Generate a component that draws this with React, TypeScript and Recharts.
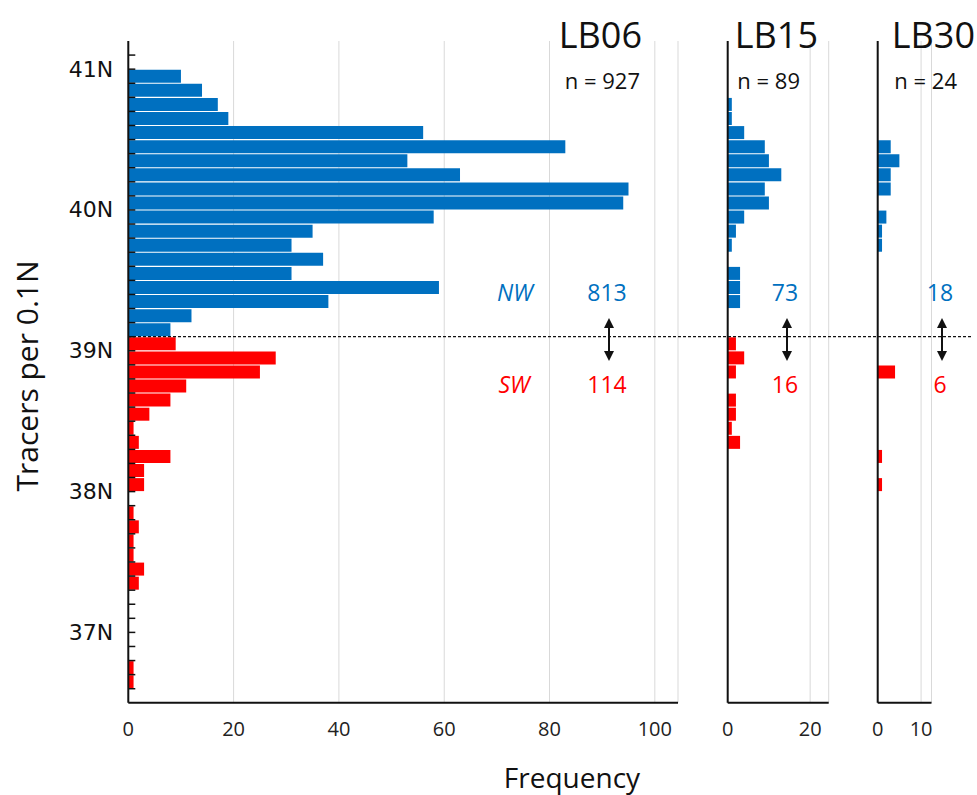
import React from "react";
import { Bar, BarChart, CartesianGrid, XAxis, YAxis } from "recharts";

// upper edge of each 0.1° latitude bin, north to south
const latEdges = [
  "41.2", "41.1", "41.0", "40.9", "40.8", "40.7", "40.6", "40.5", "40.4", "40.3",
  "40.2", "40.1", "40.0", "39.9", "39.8", "39.7", "39.6", "39.5", "39.4", "39.3",
  "39.2", "39.1", "39.0", "38.9", "38.8", "38.7", "38.6", "38.5", "38.4", "38.3",
  "38.2", "38.1", "38.0", "37.9", "37.8", "37.7", "37.6", "37.5", "37.4", "37.3",
  "37.2", "37.1", "37.0", "36.9", "36.8", "36.7", "36.6",
];

const lb06NW = [
  0, 0, 10, 14, 17, 19, 56, 83, 53, 63,
  95, 94, 58, 35, 31, 37, 31, 59, 38, 12,
  8, 0, 0, 0, 0, 0, 0, 0, 0, 0,
  0, 0, 0, 0, 0, 0, 0, 0, 0, 0,
  0, 0, 0, 0, 0, 0, 0,
];
const lb06SW = [
  0, 0, 0, 0, 0, 0, 0, 0, 0, 0,
  0, 0, 0, 0, 0, 0, 0, 0, 0, 0,
  0, 9, 28, 25, 11, 8, 4, 1, 2, 8,
  3, 3, 0, 1, 2, 1, 1, 3, 2, 0,
  0, 0, 0, 0, 1, 1, 0,
];
const lb15NW = [
  0, 0, 0, 0, 1, 1, 4, 9, 10, 13,
  9, 10, 4, 2, 1, 0, 3, 3, 3, 0,
  0, 0, 0, 0, 0, 0, 0, 0, 0, 0,
  0, 0, 0, 0, 0, 0, 0, 0, 0, 0,
  0, 0, 0, 0, 0, 0, 0,
];
const lb15SW = [
  0, 0, 0, 0, 0, 0, 0, 0, 0, 0,
  0, 0, 0, 0, 0, 0, 0, 0, 0, 0,
  0, 2, 4, 2, 0, 2, 2, 1, 3, 0,
  0, 0, 0, 0, 0, 0, 0, 0, 0, 0,
  0, 0, 0, 0, 0, 0, 0,
];
const lb30NW = [
  0, 0, 0, 0, 0, 0, 0, 3, 5, 3,
  3, 0, 2, 1, 1, 0, 0, 0, 0, 0,
  0, 0, 0, 0, 0, 0, 0, 0, 0, 0,
  0, 0, 0, 0, 0, 0, 0, 0, 0, 0,
  0, 0, 0, 0, 0, 0, 0,
];
const lb30SW = [
  0, 0, 0, 0, 0, 0, 0, 0, 0, 0,
  0, 0, 0, 0, 0, 0, 0, 0, 0, 0,
  0, 0, 0, 4, 0, 0, 0, 0, 0, 1,
  0, 1, 0, 0, 0, 0, 0, 0, 0, 0,
  0, 0, 0, 0, 0, 0, 0,
];

const panels = [
  { name: "LB06", n: 927, nw: 813, sw: 114, ticks: [0, 20, 40, 60, 80, 100], max: 104.4 },
  { name: "LB15", n: 89, nw: 73, sw: 16, ticks: [0, 20], max: 24.5 },
  { name: "LB30", n: 24, nw: 18, sw: 6, ticks: [0, 10], max: 12.4 },
];

const BLUE = "#0070c0";
const RED = "#ff0000";
const SANS = "'Open Sans', sans-serif";
const PLOT_TOP = 41;
const PLOT_BOTTOM = 702.8;
const BAND = (PLOT_BOTTOM - PLOT_TOP) / latEdges.length;
const DIVIDE_Y = PLOT_TOP + latEdges.indexOf("39.1") * BAND;

const mkData = (nw: number[], sw: number[]) =>
  latEdges.map((edge, i) => ({ edge, nw: nw[i], sw: sw[i] }));

const lb06Data = mkData(lb06NW, lb06SW);
const lb15Data = mkData(lb15NW, lb15SW);
const lb30Data = mkData(lb30NW, lb30SW);

function LatTick(props: any) {
  const { x, y, payload, index } = props;
  const top = y - BAND / 2;
  const v = parseFloat(payload.value);
  const whole = Math.abs(v - Math.round(v)) < 1e-6;
  return (
    <g>
      {index > 0 && (
        <line x1={x} x2={x + 7} y1={top} y2={top} stroke="#111" strokeWidth={1.5} />
      )}
      {whole && (
        <text
          x={x - 15}
          y={top}
          textAnchor="end"
          dominantBaseline="central"
          fontFamily="'DejaVu Sans', sans-serif"
          fontSize={22}
          fill="#111"
        >
          {Math.round(v)}N
        </text>
      )}
    </g>
  );
}

type PanelProps = {
  data: { edge: string; nw: number; sw: number }[];
  left: number;
  width: number;
  marginLeft: number;
  marginRight: number;
  yWidth: number;
  ticks: number[];
  max: number;
  labels?: boolean;
};

function Panel({ data, left, width, marginLeft, marginRight, yWidth, ticks, max, labels }: PanelProps) {
  return (
    <div style={{ position: "absolute", left, top: 0 }}>
      <BarChart
        width={width}
        height={795}
        data={data}
        layout="vertical"
        barCategoryGap={0.6}
        margin={{ top: PLOT_TOP, bottom: 795 - PLOT_BOTTOM - 60, left: marginLeft, right: marginRight }}
      >
        <CartesianGrid horizontal={false} stroke="#d9d9d9" />
        <XAxis
          type="number"
          domain={[0, max]}
          ticks={ticks}
          height={60}
          tickLine={false}
          tickSize={0}
          tickMargin={19}
          axisLine={{ stroke: "#111", strokeWidth: 2 }}
          tick={{ fill: "#222", fontSize: 20, fontFamily: SANS }}
        />
        <YAxis
          type="category"
          dataKey="edge"
          width={yWidth}
          interval={0}
          tickLine={false}
          tickSize={0}
          tickMargin={0}
          axisLine={{ stroke: "#111", strokeWidth: 2 }}
          tick={labels ? <LatTick /> : false}
        />
        <Bar dataKey="nw" stackId="a" fill={BLUE} isAnimationActive={false} />
        <Bar dataKey="sw" stackId="a" fill={RED} isAnimationActive={false} />
      </BarChart>
    </div>
  );
}

function DoubleArrow({ x }: { x: number }) {
  const y1 = 318;
  const y2 = 361;
  return (
    <g>
      <line x1={x} x2={x} y1={y1 + 6} y2={y2 - 6} stroke="#111" strokeWidth={2} />
      <polygon points={`${x},${y1} ${x - 5},${y1 + 10} ${x + 5},${y1 + 10}`} fill="#111" />
      <polygon points={`${x},${y2} ${x - 5},${y2 - 10} ${x + 5},${y2 - 10}`} fill="#111" />
    </g>
  );
}

export default function App() {
  const countX = [607, 785, 940];
  const titleRight = [642, 818, 975];
  const nRight = [640, 800, 957];
  return (
    <div style={{ position: "absolute", left: 0, top: 0, width: 977, height: 795, background: "#fff" }}>
      <Panel data={lb06Data} left={0} width={700} marginLeft={68.3} marginRight={22} yWidth={60}
        ticks={panels[0].ticks} max={panels[0].max} labels />
      <Panel data={lb15Data} left={690} width={160} marginLeft={27.7} marginRight={21.3} yWidth={10}
        ticks={panels[1].ticks} max={panels[1].max} />
      <Panel data={lb30Data} left={850} width={127} marginLeft={17.7} marginRight={45.5} yWidth={10}
        ticks={panels[2].ticks} max={panels[2].max} />

      <svg width={977} height={795} style={{ position: "absolute", left: 0, top: 0, pointerEvents: "none" }}>
        <line x1={128} x2={972} y1={DIVIDE_Y} y2={DIVIDE_Y} stroke="#111" strokeWidth={1.2} strokeDasharray="3 2" />
        {panels.map((p, i) => (
          <g key={p.name} fontFamily={SANS}>
            <text x={titleRight[i]} y={48} textAnchor="end" fontSize={36} fill="#111">{p.name}</text>
            <text x={nRight[i]} y={89} textAnchor="end" fontSize={22} fill="#111">n = {p.n}</text>
            <text x={countX[i]} y={301} textAnchor="middle" fontSize={23} fill={BLUE}>{p.nw}</text>
            <text x={countX[i]} y={393} textAnchor="middle" fontSize={23} fill={RED}>{p.sw}</text>
            <DoubleArrow x={countX[i] + 2} />
          </g>
        ))}
        <text x={515} y={301} textAnchor="middle" fontSize={23} fontStyle="italic" fontFamily={SANS} fill={BLUE}>NW</text>
        <text x={514} y={393} textAnchor="middle" fontSize={23} fontStyle="italic" fontFamily={SANS} fill={RED}>SW</text>
        <text x={572} y={788} textAnchor="middle" fontSize={28} fontFamily={SANS} fill="#111">Frequency</text>
        <text x={0} y={0} transform="translate(38,376) rotate(-90)" textAnchor="middle" fontSize={30}
          fontFamily={SANS} fill="#111">Tracers per 0.1N</text>
      </svg>
    </div>
  );
}
